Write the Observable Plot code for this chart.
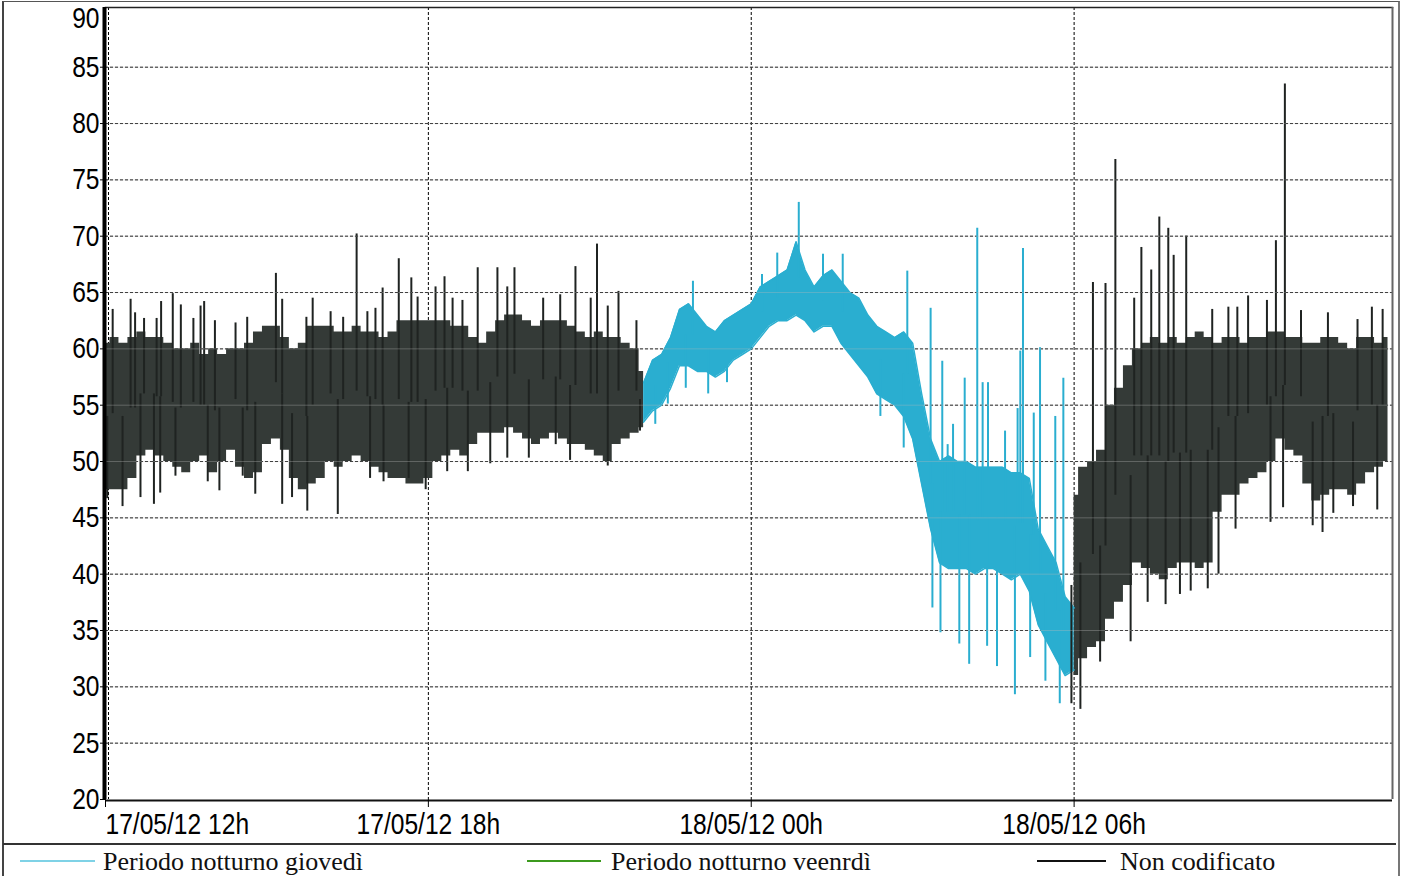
<!DOCTYPE html>
<html>
<head>
<meta charset="utf-8">
<script src="https://cdn.jsdelivr.net/npm/d3@7"></script>
<script src="https://cdn.jsdelivr.net/npm/@observablehq/plot@0.6"></script>
<style>
  body { margin: 0; background: #fff; }
  #wrap { position: relative; width: 1404px; height: 876px; overflow: hidden; background: #fff; }
  #chart { position: absolute; left: 0; top: 0; }
  #frame { position: absolute; left: 2px; top: 1px; width: 1394px; height: 890px;
           border-left: 2px solid #444; border-right: 2px solid #777; border-top: 1px solid #555; }
  #legend { position: absolute; left: 3px; top: 843px; width: 1393px; height: 40px;
            border-top: 2px solid #333; font-family: "Liberation Serif", "Times New Roman", serif;
            font-size: 26px; color: #111; }
  .sw { position: absolute; height: 0; }
  .lt { position: absolute; top: 2px; line-height: 30px; white-space: nowrap; }
</style>
</head>
<body>
<div id="wrap">
  <div id="chart"></div>
  <div id="frame"></div>
  <div id="legend"></div>
</div>
<script>
// ---------------- DATA ----------------
// time origin: 17/05/12 12:00, times in minutes; bands sampled every 10 min
const binMinutes = 10;

// "Non codificato" (black), 12:00 -> 22:00
const blackAStart = 0;
const blackAHi = [60.5,61,60.5,61,61.5,61,61,60.5,60,60, 60.5,59.5,60,59.5,60,60,60.5,61.5,62,62,
                  61,60,60.5,62,62,62,61.5,61.5,62,61.5, 61.5,61,61.5,62.5,62.5,62.5,62.5,62.5,62.5,62,
                  62,61,60.5,61.5,62.5,63,63,62.5,62,62.5, 62.5,62.5,62,61.5,61,61.5,61,61,60.5,60, 58];
const blackALo = [47.5,47.5,47.5,48.5,50.5,51,50.5,50,49.5,49, 50,50.5,49,50,51,49.5,48.5,49,51.5,52,
                  51,48.5,47.5,48,48.5,50,49.5,50,50.5,50, 49.5,49,48.5,48.5,48,48,48.5,50,50.5,51,
                  50.5,51.5,52.5,52.5,52.5,53,52.5,52,51.5,52, 52.5,52,51.5,51.5,51,50.5,50,51.5,52,52.5, 53];

// "Periodo notturno giovedì" (cyan), 22:00 -> 06:00
const cyanStart = 600;
const cyanHi = [57,59,59.5,61,63.5,64,63,62,61.5,62.5, 63,63.5,64,65.5,66,66.5,67,69.5,67,65.5,
                66.5,67,66,65,64.5,63,62,61.5,61,61.5, 60.5,56,52,50,50.5,50,50,49.5,49.5,49.5,
                49.5,49,49,48.5,44,42.5,41,38,37];
const cyanLo = [53.5,54.5,55,56.5,58.5,58.5,58,58,57.5,58, 59,59.5,60,61,62,62.5,62.5,63,62.5,61.5,
                62,62,60.5,59.5,58.5,57.5,56,55.5,55,54, 52,48,44,41,40.5,40.5,40.5,40,40.5,40.5,
                40,39.5,40,38.5,35.5,34,32.5,31,31.5];

// "Non codificato" (black), 06:00 -> 11:50
const blackCStart = 1080;
const blackCHi = [47,49.5,50,51,55,56.5,58.5,60,60.5,61, 60.5,61,60.5,61,61.5,61,60.5,61,61,60.5,
                  61,61,61.5,61.5,61,61,60.5,60.5,61,61, 60.5,60,61,61,60.5,61];
const blackCLo = [31,32.5,33.5,34,36,37.5,39,41,40.5,40, 39.5,40.5,41,41,40.5,41,45.5,47,47,48,
                  48.5,49,50,52,51,50.5,48,46.5,47,47.5, 47.5,47,48,49,49.5,50];

// isolated peaks [minute, dB]
const blackPeaksUp = [[8,63.5],[28,64.4],[33,63.2],[43,62.7],[57,62.7],[62,64.2],[75,64.9],[84,63.9],[98,62.7],
  [106,63.8],[110,64.2],[122,62.5],[145,62.3],[158,62.8],[190,66.7],[197,64.4],[224,62.8],[231,64.5],
  [251,63.3],[265,62.8],[280,70.2],[292,63.3],[301,63.6],[309,65.4],[327,68],[341,66.3],[348,64.6],
  [368,65.5],[378,66.4],[387,64.5],[398,64.3],[415,67.2],[437,67.2],[448,65.5],[456,67.2],[488,64.5],
  [507,64.8],[524,67.3],[541,64.5],[548,69.3],[560,63.8],[572,65.1],[592,62.5],
  [1101,65.9],[1115,65.8],[1126,76.8],[1147,64.5],[1155,69],[1166,67],[1175,71.7],[1185,70.7],[1191,68.3],
  [1205,70],[1234,63.5],[1252,63.7],[1262,63.7],[1274,64.7],[1295,64.3],[1305,69.6],[1315,83.5],[1333,63.4],
  [1363,63.2],[1396,62.6],[1412,63.7],[1424,63.5]];
const blackPeaksDown = [[2,46.7],[19,46],[39,46.8],[54,46.2],[61,47.2],[78,48.7],[114,48.2],[127,47.4],
  [153,48.7],[167,47.1],[197,46.2],[208,46.8],[225,45.6],[259,45.3],[295,48.5],[310,48.2],[338,48.5],
  [357,47.5],[381,49.1],[404,49.1],[429,49.8],[448,50.3],[472,50.3],[502,51.5],[518,50.1],[560,49.6],[596,52.7],
  [1077,28.5],[1087,28],[1109,32.2],[1143,34],[1162,37.5],[1182,37.3],[1198,38.2],[1210,38.5],[1229,38.7],
  [1241,40],[1260,44],[1299,44.6],[1313,45.9],[1346,44.3],[1357,43.7],[1369,45.4],[1391,46],[1418,45.7]];
const cyanPeaksUp = [[655,66],[732,66.6],[749,68.5],[773,73],[800,68.4],[822,68.4],[894,66.9],[920,63.6],
  [933,58.9],[939,51.5],[945,53.3],[958,57.4],[972,70.7],[978,57],[984,57],[1003,52.7],[1017,54.7],
  [1020,59.8],[1023,68.9],[1035,54.3],[1042,60.1],[1059,54],[1068,57.4]];
const cyanPeaksDown = [[613,53.3],[627,55.1],[647,56.5],[672,56],[693,57],[864,54],[890,51.2],[922,37],
  [931,34.8],[952,33.8],[963,32],[983,33.6],[994,31.8],[1014,29.3],[1031,32.6],[1048,30.5],[1064,28.5]];

// axes
const yTicks = [20,25,30,35,40,45,50,55,60,65,70,75,80,85,90];
const xTickMinutes = [0, 360, 720, 1080];
const xTickLabels = ["17/05/12 12h", "17/05/12 18h", "18/05/12 00h", "18/05/12 06h"];
const xEndMinutes = 1435;

const legendLabels = ["Periodo notturno giovedì", "Periodo notturno veenrdì", "Non codificato"];
const seriesColors = {black: "#343a37", cyan: "#2aaed0", green: "#3c9a1e"};

// ---------------- BUILD ----------------
const T0 = Date.UTC(2012, 4, 17, 12, 0);
const toDate = m => new Date(T0 + m * 60000);

function band(start, hi, lo) {
  return hi.map((h, i) => ({t: toDate(start + i * binMinutes), m: start + i * binMinutes, hi: h, lo: lo[i]}));
}
const bandA = band(blackAStart, blackAHi, blackALo);
const bandB = band(cyanStart, cyanHi, cyanLo);
const bandC = band(blackCStart, blackCHi, blackCLo);

function peaks(list, bands) {
  const all = bands.flat();
  return list.map(([m, v]) => {
    let best = all[0];
    for (const b of all) if (Math.abs(b.m - m) < Math.abs(best.m - m)) best = b;
    return {t: toDate(m), v, base: (best.hi + best.lo) / 2};
  });
}
const pkBlackUp = peaks(blackPeaksUp, [bandA, bandC]);
const pkBlackDown = peaks(blackPeaksDown, [bandA, bandC]);
const pkCyanUp = peaks(cyanPeaksUp, [bandB]);
const pkCyanDown = peaks(cyanPeaksDown, [bandB]);

const FONT = "'Liberation Sans', Arial, sans-serif";
const xTickDates = xTickMinutes.map(toDate);
const fmtX = d => xTickLabels[xTickMinutes.indexOf((d - T0) / 60000)];
const gridY = yTicks.filter(v => v > 20 && v < 90);

const chart = Plot.plot({
  width: 1404,
  height: 843,
  marginLeft: 105,
  marginRight: 12,
  marginTop: 7,
  marginBottom: 44,
  style: {fontFamily: FONT, fontSize: "30px", color: "#000", background: "transparent"},
  x: {type: "utc", domain: [toDate(0), toDate(xEndMinutes)]},
  y: {domain: [20, 90.3]},
  marks: [
    Plot.ruleY(gridY, {stroke: "#000", strokeDasharray: "3,2", strokeWidth: 1}),
    Plot.ruleX(xTickDates.slice(1), {stroke: "#000", strokeDasharray: "3,2", strokeWidth: 1}),
    Plot.ruleX(xTickDates.slice(0, 1), {stroke: "#000", strokeDasharray: "3,2", strokeWidth: 1, dx: 3}),
    // bands
    Plot.areaY(bandA, {x: "t", y1: "lo", y2: "hi", fill: seriesColors.black, curve: "step"}),
    Plot.areaY(bandC, {x: "t", y1: "lo", y2: "hi", fill: seriesColors.black, curve: "step"}),
    Plot.areaY(bandB, {x: "t", y1: "lo", y2: "hi", fill: seriesColors.cyan}),
    Plot.lineY(bandB, {x: "t", y: "hi", stroke: seriesColors.cyan, strokeWidth: 1.5}),
    Plot.lineY(bandB, {x: "t", y: "lo", stroke: seriesColors.cyan, strokeWidth: 1.5}),
    // peaks
    Plot.ruleX(pkCyanUp, {x: "t", y1: "base", y2: "v", stroke: seriesColors.cyan, strokeWidth: 2}),
    Plot.ruleX(pkCyanDown, {x: "t", y1: "base", y2: "v", stroke: seriesColors.cyan, strokeWidth: 2}),
    Plot.ruleX(pkBlackUp, {x: "t", y1: "base", y2: "v", stroke: "#1f2321", strokeWidth: 2}),
    Plot.ruleX(pkBlackDown, {x: "t", y1: "base", y2: "v", stroke: "#1f2321", strokeWidth: 2}),
    // faint grid over the data
    Plot.ruleY(gridY, {stroke: "#bbb", strokeOpacity: 0.35, strokeWidth: 1}),
    // frame
    Plot.frame({anchor: "top", stroke: "#222", strokeWidth: 1.5}),
    Plot.ruleX([toDate(xEndMinutes)], {stroke: "#666", strokeWidth: 2}),
    Plot.ruleX([toDate(0)], {stroke: "#000", strokeWidth: 4, dx: -1}),
    Plot.ruleY([20], {stroke: "#111", strokeWidth: 2, dy: 1}),
    // axes
    Plot.axisY({ticks: yTicks.filter(v => v < 90), tickSize: 5, tickPadding: 1, label: null,
                fontSize: 30, tickFormat: d => String(d)}),
    Plot.axisY({ticks: [90], tickSize: 0, tickPadding: 6, label: null, fontSize: 30, dy: 8,
                tickFormat: d => String(d)}),
    Plot.axisX({ticks: xTickDates.slice(0, 1), tickFormat: fmtX, textAnchor: "start", tickSize: 8,
                tickPadding: 5, label: null, fontSize: 30}),
    Plot.axisX({ticks: xTickDates.slice(1), tickFormat: fmtX, tickSize: 8, tickPadding: 5,
                label: null, fontSize: 30})
  ]
});

// condense the tick labels horizontally (the original uses a narrow sans face)
const squeeze = 0.82;
chart.querySelectorAll('g[aria-label$="tick label"] text').forEach(t => {
  const tr = t.getAttribute("transform") || "";
  const x = +(t.getAttribute("x") || 0), y = +(t.getAttribute("y") || 0);
  if (t.hasAttribute("x")) t.removeAttribute("x");
  const yAttr = t.getAttribute("y");
  const keepY = yAttr && /em$/.test(yAttr) ? yAttr : null;
  if (yAttr && !keepY) t.removeAttribute("y");
  t.setAttribute("transform", `${tr} translate(${x},${keepY ? 0 : y}) scale(${squeeze},1)`);
});
document.getElementById("chart").appendChild(chart);

// legend (below the svg)
const legend = document.getElementById("legend");
const items = [
  {x0: 17, x1: 92, tx: 100, color: "#7fd2e6", label: legendLabels[0]},
  {x0: 524, x1: 598, tx: 608, color: seriesColors.green, label: legendLabels[1]},
  {x0: 1034, x1: 1103, tx: 1117, color: "#111", label: legendLabels[2]}
];
for (const it of items) {
  const sw = document.createElement("div");
  sw.className = "sw";
  sw.style.left = it.x0 + "px";
  sw.style.width = (it.x1 - it.x0) + "px";
  sw.style.top = "15px";
  sw.style.borderTop = `2px solid ${it.color}`;
  legend.appendChild(sw);
  const tx = document.createElement("div");
  tx.className = "lt";
  tx.style.left = it.tx + "px";
  tx.textContent = it.label;
  legend.appendChild(tx);
}
</script>
</body>
</html>
